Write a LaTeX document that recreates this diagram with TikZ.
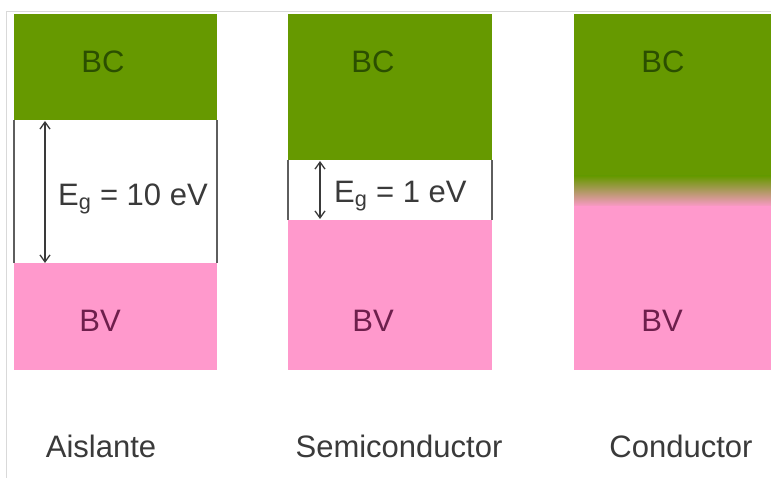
\documentclass[tikz,border=0pt]{standalone}
\usepackage{fontspec}
\setmainfont{Liberation Sans}
\usetikzlibrary{arrows.meta}
\definecolor{bandgreen}{HTML}{669900}
\definecolor{bandpink}{HTML}{FF99CC}
\definecolor{bcink}{HTML}{2B4F00}
\definecolor{bvink}{HTML}{6E1F4C}
\definecolor{labink}{HTML}{3A3A3A}
\definecolor{edgeink}{HTML}{5E5E5E}
\tikzset{
  big/.style={font=\fontsize{31}{36}\selectfont, inner sep=0pt},
  bctxt/.style={big, text=bcink, anchor=base},
  bvtxt/.style={big, text=bvink, anchor=base},
  gaptxt/.style={big, text=labink, anchor=base west},
  captxt/.style={big, text=labink, anchor=base},
  gapedge/.style={draw=edgeink, line width=1.8pt},
  gaparr/.style={{Straight Barb[length=7pt,width=10pt]}-{Straight Barb[length=7pt,width=10pt]}, line width=1.3pt, color=labink},
}

\begin{document}
\begin{tikzpicture}[x=1pt,y=-1pt]
  \useasboundingbox (0,0) rectangle (771,478);
  \fill[white] (0,0) rectangle (771,478);
  \draw[black!15, line width=1pt] (6,478) -- (6,12) -- (771,12);
  % aislante, semiconductor
  \foreach \n/\xl/\xr/\gt/\gb in {1/14/217/120/263, 2/288/492/160/220} {
    \fill[bandgreen] (\xl,14) rectangle (\xr,\gt);
    \fill[bandpink] (\xl,\gb) rectangle (\xr,370);
    \draw[gapedge] (\xl,\gt) -- (\xl,\gb);
    \draw[gapedge] (\xr,\gt) -- (\xr,\gb);
  }
  % conductor
  \fill[bandgreen] (574,14) rectangle (771,176);
  \shade[top color=bandgreen, bottom color=bandpink] (574,176) rectangle (771,207);
  \fill[bandpink] (574,206.5) rectangle (771,370);
  % labels
  \node[bctxt] (bc1) at (103,73) {BC};
  \node[bctxt] (bc2) at (373,73) {BC};
  \node[bctxt] (bc3) at (663,73) {BC};
  \node[bvtxt] (bv1) at (100,331) {BV};
  \node[bvtxt] (bv2) at (373,331) {BV};
  \node[bvtxt] (bv3) at (662,331) {BV};
  \coordinate (top1) at (45,121);
  \coordinate (bot1) at (45,263);
  \coordinate (top2) at (320,161);
  \coordinate (bot2) at (320,219);
  \draw[gaparr] (top1) -- (bot1);
  \draw[gaparr] (top2) -- (bot2);
  \node[gaptxt] (eg1) at (58,206) {E\textsubscript{g} = 10 eV};
  \node[gaptxt] (eg2) at (334,203) {E\textsubscript{g} = 1 eV};
  \node[captxt] (ais) at (101,457) {Aislante};
  \node[captxt] (sem) at (399,457) {Semiconductor};
  \node[captxt] (con) at (681,457) {Conductor};
\end{tikzpicture}
\end{document}
